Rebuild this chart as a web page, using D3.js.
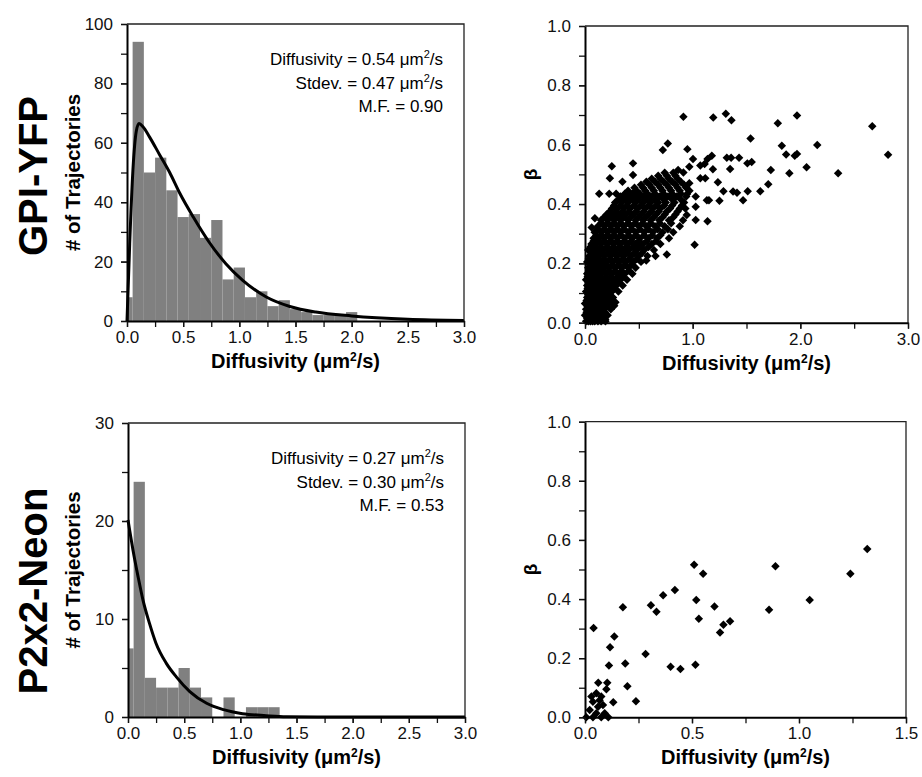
<!DOCTYPE html>
<html>
<head>
<meta charset="utf-8">
<script src="https://cdn.jsdelivr.net/npm/d3@7"></script>
<style>
body { margin: 0; background: #fff; }
svg { font-family: Arial, "Liberation Sans", sans-serif; }
</style>
</head>
<body>
<div id="chart"></div>
<script>
// ---- data ----
// histogram bins are centred on 0, 0.1, 0.2 ... (first bin is half width)
const binCenters = d3.range(0, 31).map(i => +(i * 0.1).toFixed(1));
const gpiCounts = [8, 94, 50, 55, 44, 35, 36, 28, 34, 14, 18, 8, 10, 5, 7, 4, 3, 2, 2, 2, 3];
const p2xCounts = [7, 24, 4, 3, 3, 5, 3, 2, 0, 2, 0, 1, 1, 1];

// fitted curves
const gpiFitX = [0, 0.024, 0.053, 0.083, 0.107, 0.142, 0.2, 0.29, 0.38, 0.47, 0.59, 0.73, 0.88, 1.03, 1.24, 1.45, 1.68, 2.0, 2.5, 3.0];
const gpiFitY = [0, 26, 51, 64, 66.5, 65.4, 62, 56, 50, 43, 35, 26.6, 19.3, 13.7, 8.1, 4.9, 3.0, 1.7, 0.6, 0.2];
const p2xFitX = [0, 0.045, 0.09, 0.134, 0.19, 0.25, 0.34, 0.43, 0.55, 0.70, 0.85, 1.02, 1.23, 1.41, 2.0, 3.0];
const p2xFitY = [20.1, 17.0, 14.3, 11.9, 9.6, 7.5, 5.5, 4.1, 2.6, 1.4, 0.75, 0.34, 0.14, 0.03, 0, 0];

const gpiStats = ["Diffusivity = 0.54 μm", "Stdev. = 0.47 μm", "M.F. = 0.90"];
const p2xStats = ["Diffusivity = 0.27 μm", "Stdev. = 0.30 μm", "M.F. = 0.53"];

// GPI-YFP scatter: dense cloud as rows [beta, [diffusivities]]
const gpiCloudRows = [
  [0.005, [0.01, 0.03, 0.05, 0.07, 0.09, 0.12, 0.15, 0.19]],
  [0.015, [0.02, 0.045, 0.075, 0.105, 0.135, 0.17]],
  [0.025, [0.00, 0.03, 0.06, 0.09, 0.12, 0.16, 0.21]],
  [0.035, [0.015, 0.045, 0.075, 0.105, 0.14, 0.185]],
  [0.045, [0.01, 0.04, 0.07, 0.10, 0.14, 0.18, 0.24]],
  [0.055, [0.025, 0.055, 0.085, 0.115, 0.155, 0.20]],
  [0.065, [0.00, 0.03, 0.06, 0.09, 0.13, 0.17, 0.22, 0.27]],
  [0.075, [0.015, 0.045, 0.075, 0.105, 0.14, 0.185, 0.235]],
  [0.085, [0.02, 0.05, 0.08, 0.12, 0.16, 0.21, 0.26]],
  [0.095, [0.03, 0.06, 0.095, 0.135, 0.18, 0.23]],
  [0.105, [0.01, 0.04, 0.07, 0.11, 0.15, 0.20, 0.25, 0.31]],
  [0.115, [0.025, 0.055, 0.09, 0.13, 0.175, 0.225, 0.27]],
  [0.125, [0.02, 0.05, 0.09, 0.13, 0.18, 0.23, 0.29, 0.35]],
  [0.135, [0.035, 0.07, 0.11, 0.155, 0.205, 0.26, 0.31]],
  [0.145, [0.01, 0.04, 0.08, 0.12, 0.17, 0.22, 0.27, 0.33, 0.39]],
  [0.155, [0.025, 0.06, 0.10, 0.145, 0.195, 0.245, 0.30, 0.35]],
  [0.165, [0.02, 0.06, 0.10, 0.15, 0.20, 0.25, 0.31, 0.37, 0.44]],
  [0.175, [0.04, 0.08, 0.125, 0.175, 0.225, 0.28, 0.34, 0.41]],
  [0.185, [0.03, 0.07, 0.12, 0.17, 0.22, 0.28, 0.34, 0.40, 0.47]],
  [0.195, [0.05, 0.095, 0.145, 0.195, 0.25, 0.31, 0.37, 0.43]],
  [0.205, [0.02, 0.05, 0.10, 0.15, 0.20, 0.26, 0.32, 0.38, 0.45, 0.52]],
  [0.215, [0.035, 0.075, 0.125, 0.175, 0.23, 0.29, 0.35, 0.41, 0.48]],
  [0.225, [0.04, 0.08, 0.13, 0.18, 0.24, 0.30, 0.36, 0.43, 0.50, 0.58]],
  [0.235, [0.06, 0.105, 0.155, 0.21, 0.27, 0.33, 0.39, 0.46, 0.53]],
  [0.245, [0.03, 0.07, 0.12, 0.17, 0.23, 0.29, 0.35, 0.41, 0.48, 0.55, 0.64]],
  [0.255, [0.05, 0.095, 0.145, 0.20, 0.26, 0.32, 0.38, 0.445, 0.51, 0.59]],
  [0.265, [0.06, 0.10, 0.15, 0.21, 0.27, 0.33, 0.40, 0.47, 0.54, 0.62, 0.70]],
  [0.275, [0.08, 0.125, 0.18, 0.24, 0.30, 0.365, 0.43, 0.50, 0.575, 0.66]],
  [0.285, [0.08, 0.13, 0.18, 0.24, 0.30, 0.37, 0.44, 0.51, 0.59, 0.67, 0.78]],
  [0.295, [0.105, 0.155, 0.21, 0.27, 0.335, 0.405, 0.475, 0.55, 0.625, 0.70]],
  [0.305, [0.09, 0.15, 0.21, 0.27, 0.33, 0.40, 0.47, 0.55, 0.63, 0.72, 0.82]],
  [0.315, [0.12, 0.18, 0.24, 0.30, 0.365, 0.435, 0.51, 0.59, 0.675, 0.77]],
  [0.325, [0.12, 0.18, 0.24, 0.30, 0.36, 0.43, 0.50, 0.57, 0.65, 0.74, 0.88]],
  [0.335, [0.15, 0.21, 0.27, 0.335, 0.40, 0.465, 0.535, 0.61, 0.695, 0.80]],
  [0.345, [0.15, 0.21, 0.27, 0.33, 0.40, 0.47, 0.54, 0.61, 0.69, 0.78, 0.91]],
  [0.355, [0.18, 0.24, 0.30, 0.36, 0.425, 0.495, 0.565, 0.64, 0.72, 0.82]],
  [0.365, [0.20, 0.26, 0.32, 0.38, 0.45, 0.52, 0.59, 0.66, 0.74, 0.84]],
  [0.375, [0.23, 0.29, 0.35, 0.41, 0.475, 0.545, 0.615, 0.685, 0.76, 0.86]],
  [0.385, [0.25, 0.30, 0.36, 0.42, 0.49, 0.56, 0.63, 0.70, 0.79, 0.88]],
  [0.395, [0.27, 0.33, 0.39, 0.455, 0.52, 0.59, 0.66, 0.735, 0.81, 0.90]],
  [0.405, [0.28, 0.34, 0.40, 0.47, 0.54, 0.61, 0.68, 0.75, 0.83, 0.92]],
  [0.415, [0.31, 0.37, 0.435, 0.50, 0.575, 0.65, 0.73, 0.81, 0.89]],
  [0.425, [0.33, 0.40, 0.47, 0.54, 0.61, 0.69, 0.77, 0.85, 0.94]],
  [0.435, [0.37, 0.44, 0.51, 0.58, 0.65, 0.73, 0.81, 0.89]],
  [0.445, [0.40, 0.48, 0.56, 0.64, 0.72, 0.80, 0.88, 0.97]],
  [0.455, [0.46, 0.54, 0.62, 0.70, 0.78, 0.86, 0.94]],
  [0.465, [0.52, 0.60, 0.68, 0.76, 0.84, 0.92]],
  [0.475, [0.57, 0.65, 0.73, 0.81, 0.89]],
  [0.485, [0.62, 0.70, 0.78, 0.86]],
  [0.495, [0.68, 0.76, 0.84]],
  [0.505, [0.74, 0.82]]
];
// GPI-YFP scatter: isolated points [diffusivity, beta]
const gpiOutliers = [
  [2.815, 0.566], [2.668, 0.662], [2.351, 0.504], [2.157, 0.599], [2.058, 0.524],
  [1.969, 0.698], [1.969, 0.569], [1.948, 0.563], [1.898, 0.504], [1.868, 0.567],
  [1.828, 0.596], [1.791, 0.672], [1.726, 0.515], [1.702, 0.467], [1.628, 0.443],
  [1.538, 0.621], [1.548, 0.542], [1.508, 0.537], [1.511, 0.443], [1.468, 0.413],
  [1.431, 0.556], [1.412, 0.438], [1.375, 0.442], [1.357, 0.556], [1.348, 0.518],
  [1.317, 0.556], [1.286, 0.443], [1.308, 0.704], [1.36, 0.682], [1.249, 0.411],
  [1.234, 0.473], [1.191, 0.692], [1.178, 0.563], [1.188, 0.517], [1.138, 0.552],
  [1.111, 0.535], [1.117, 0.487], [1.071, 0.530], [1.071, 0.487], [1.132, 0.413],
  [1.151, 0.413], [1.138, 0.342], [1.028, 0.346], [1.018, 0.263], [1.028, 0.391],
  [1.028, 0.425], [1.003, 0.552], [0.951, 0.585], [0.914, 0.694], [0.969, 0.526],
  [0.969, 0.470], [0.948, 0.434], [0.914, 0.506], [0.865, 0.515], [0.932, 0.385],
  [0.945, 0.363], [0.769, 0.604], [0.723, 0.582], [0.760, 0.230], [0.655, 0.225],
  [0.569, 0.210], [0.446, 0.537], [0.446, 0.498], [0.348, 0.475], [0.249, 0.527],
  [0.231, 0.487], [0.132, 0.435], [0.225, 0.435], [0.289, 0.435], [0.092, 0.352],
  [0.169, 0.352], [0.062, 0.321], [0.271, 0.057], [0.283, 0.069], [0.188, 0.011]
];

// P2x2-Neon scatter [diffusivity, beta]
const p2xPoints = [
  [1.319, 0.569], [1.24, 0.486], [1.05, 0.397], [0.89, 0.511], [0.86, 0.364],
  [0.51, 0.516], [0.552, 0.486], [0.52, 0.397], [0.605, 0.375], [0.532, 0.333],
  [0.678, 0.325], [0.647, 0.313], [0.631, 0.287], [0.42, 0.431], [0.365, 0.413],
  [0.308, 0.379], [0.334, 0.357], [0.177, 0.372], [0.040, 0.302], [0.137, 0.273],
  [0.117, 0.237], [0.283, 0.214], [0.40, 0.171], [0.446, 0.163], [0.516, 0.178],
  [0.112, 0.175], [0.188, 0.182], [0.198, 0.105], [0.238, 0.054], [0.132, 0.051],
  [0.104, 0.117], [0.062, 0.117], [0.10, 0.095], [0.053, 0.081], [0.076, 0.07],
  [0.037, 0.053], [0.061, 0.036], [0.084, 0.042], [0.022, 0.025], [0.053, 0.014],
  [0.092, 0.014], [0.006, 0.0], [0.037, 0.0], [0.076, 0.0], [0.109, 0.0],
  [0.068, 0.058], [0.03, 0.07]
];

const gpiScatter = gpiCloudRows.flatMap(([b, xs]) => xs.map(x => [x, b])).concat(gpiOutliers);

// ---- drawing ----
const width = 922, height = 777;
const svg = d3.select('#chart').append('svg')
    .attr('width', width)
    .attr('height', height);

const fmt1 = d3.format('.1f');

function frame(g, x, y) {
    const [x0, x1] = x.range(), [y0, y1] = y.range();
    g.append('path')
        .attr('d', `M${x0},${y1}H${x1}V${y0}`)
        .attr('fill', 'none')
        .attr('stroke', '#222')
        .attr('stroke-width', 1.3);
}

function axes(g, x, y, o) {
    const [y0] = y.range();
    // minor ticks first, then labelled ones
    g.append('g').attr('transform', `translate(0,${y0})`)
        .call(d3.axisBottom(x).tickValues(o.xMinor).tickSize(6).tickFormat(''))
        .call(s => s.select('.domain').remove());
    g.append('g').attr('transform', `translate(0,${y0})`)
        .call(d3.axisBottom(x).tickValues(o.xMajor).tickSize(6).tickPadding(4).tickFormat(fmt1).tickSizeOuter(0))
        .call(s => s.select('.domain').attr('stroke-width', 2));
    g.append('g').attr('transform', `translate(${x.range()[0]},0)`)
        .call(d3.axisLeft(y).tickValues(o.yMinor).tickSize(6).tickFormat(''))
        .call(s => s.select('.domain').remove());
    g.append('g').attr('transform', `translate(${x.range()[0]},0)`)
        .call(d3.axisLeft(y).tickValues(o.yMajor).tickSize(6).tickPadding(8).tickFormat(o.yFmt).tickSizeOuter(0))
        .call(s => s.select('.domain').attr('stroke-width', 2));
    g.selectAll('.tick text').attr('font-size', 17).attr('fill', '#111')
        .attr('font-family', 'Arial, "Liberation Sans", sans-serif');
    g.selectAll('.tick line').attr('stroke', '#111').attr('stroke-width', 1.3);

    g.append('text')
        .attr('x', d3.mean(x.range()))
        .attr('y', y0 + 47)
        .attr('text-anchor', 'middle')
        .attr('font-size', 20)
        .attr('font-weight', 'bold')
        .call(t => {
            t.append('tspan').text('Diffusivity (μm');
            t.append('tspan').attr('font-size', 12).attr('dy', -7).text('2');
            t.append('tspan').attr('dy', 7).text('/s)');
        });
}

function histogram(o) {
    const g = svg.append('g');
    const x = d3.scaleLinear().domain([0, 3]).range(o.xr);
    const y = d3.scaleLinear().domain([0, o.yMax]).range(o.yr);
    const bins = o.counts.map((c, i) => ({
        x0: Math.max(0, binCenters[i] - 0.05),
        x1: binCenters[i] + 0.05,
        n: c
    }));
    g.selectAll('rect.bar').data(bins).join('rect')
        .attr('class', 'bar')
        .attr('x', d => x(d.x0))
        .attr('width', d => x(d.x1) - x(d.x0))
        .attr('y', d => y(d.n))
        .attr('height', d => y(0) - y(d.n))
        .attr('fill', '#808080');

    const line = d3.line()
        .x(d => x(d[0]))
        .y(d => y(d[1]))
        .curve(d3.curveMonotoneX);
    g.append('path')
        .datum(o.fitX.map((v, i) => [v, o.fitY[i]]))
        .attr('d', line)
        .attr('fill', 'none')
        .attr('stroke', '#000')
        .attr('stroke-width', 3);

    frame(g, x, y);
    axes(g, x, y, {
        xMajor: d3.range(0, 3.01, 0.5), xMinor: d3.range(0, 3.01, 0.25),
        yMajor: o.yMajor, yMinor: o.yMinor, yFmt: d3.format('d')
    });

    // stats box, right aligned
    g.selectAll('text.stat').data(o.stats).join('text')
        .attr('class', 'stat')
        .attr('x', x.range()[1] - 21)
        .attr('y', (d, i) => o.yr[1] + o.statTop + i * 23.5)
        .attr('text-anchor', 'end')
        .attr('font-size', 17)
        .each(function(d, i) {
            const t = d3.select(this);
            t.append('tspan').text(d);
            if (i < 2) {
                t.append('tspan').attr('font-size', 11).attr('dy', -7).text('2');
                t.append('tspan').attr('dy', 7).text('/s');
            }
        });

    g.append('text')
        .attr('transform', `translate(${o.yTitleX},${d3.mean(o.yr)}) rotate(-90)`)
        .attr('text-anchor', 'middle')
        .attr('font-size', 20.5)
        .attr('font-weight', 'bold')
        .attr('font-family', '"Liberation Sans Narrow", "Arial Narrow", Arial, sans-serif')
        .text('# of Trajectories');

    g.append('text')
        .attr('transform', `translate(${o.nameX},${o.nameY}) rotate(-90)`)
        .attr('text-anchor', 'middle')
        .attr('font-size', 40)
        .attr('font-weight', 'bold')
        .text(o.name);
}

function scatter(o) {
    const g = svg.append('g');
    const x = d3.scaleLinear().domain([0, o.xMax]).range(o.xr);
    const y = d3.scaleLinear().domain([0, 1]).range(o.yr);
    const sym = d3.symbol().type(d3.symbolSquare).size(36);

    frame(g, x, y);
    g.selectAll('path.pt').data(o.points).join('path')
        .attr('class', 'pt')
        .attr('d', sym)
        .attr('transform', d => `translate(${x(d[0])},${y(d[1])}) rotate(45)`)
        .attr('fill', '#000');

    axes(g, x, y, {
        xMajor: o.xMajor, xMinor: o.xMinor,
        yMajor: d3.range(0, 1.01, 0.2), yMinor: d3.range(0, 1.01, 0.1), yFmt: fmt1
    });

    g.append('text')
        .attr('transform', `translate(${o.yTitleX},${d3.mean(o.yr)}) rotate(-90)`)
        .attr('text-anchor', 'middle')
        .attr('font-size', 19)
        .attr('font-weight', 'bold')
        .text('β');
}

histogram({
    counts: gpiCounts, fitX: gpiFitX, fitY: gpiFitY, stats: gpiStats,
    xr: [127, 464], yr: [321, 24], yMax: 100, statTop: 41,
    yMajor: d3.range(0, 101, 20), yMinor: d3.range(0, 101, 10),
    yTitleX: 80, name: 'GPI-YFP', nameX: 47, nameY: 176
});
histogram({
    counts: p2xCounts, fitX: p2xFitX, fitY: p2xFitY, stats: p2xStats,
    xr: [128, 465], yr: [717, 423], yMax: 30, statTop: 41,
    yMajor: [0, 10, 20, 30], yMinor: d3.range(0, 31, 5),
    yTitleX: 80, name: 'P2x2-Neon', nameX: 47, nameY: 591
});
scatter({
    points: gpiScatter, xMax: 3, xr: [585, 908], yr: [322.7, 26],
    xMajor: [0, 1, 2, 3], xMinor: d3.range(0, 3.01, 0.5), yTitleX: 537
});
scatter({
    points: p2xPoints, xMax: 1.5, xr: [585, 906], yr: [717.3, 421.7],
    xMajor: [0, 0.5, 1, 1.5], xMinor: d3.range(0, 1.51, 0.25), yTitleX: 537
});
</script>
</body>
</html>
